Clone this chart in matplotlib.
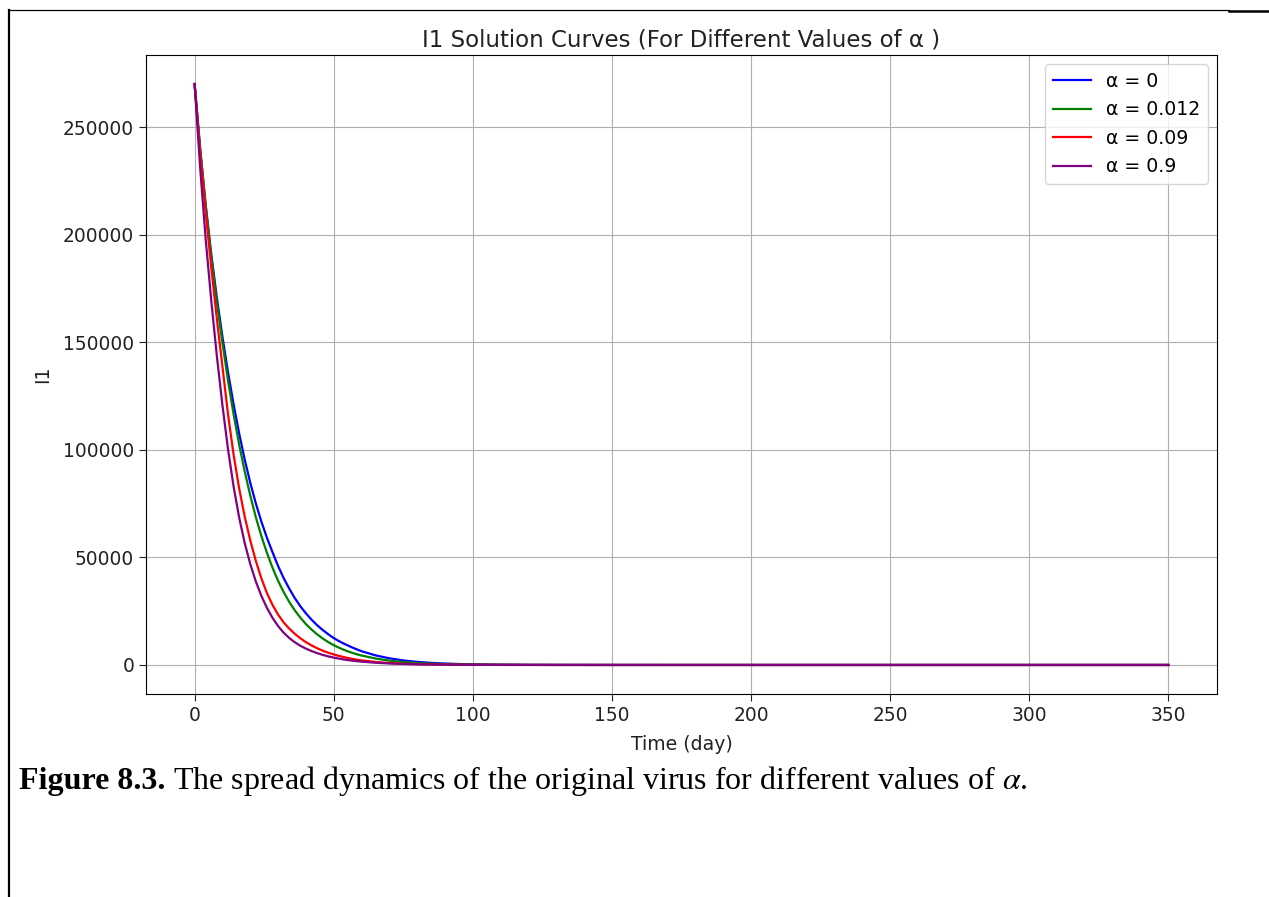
import matplotlib
matplotlib.use("Agg")
import matplotlib.pyplot as plt
from matplotlib.lines import Line2D

plt.rcParams['mathtext.fontset'] = 'stix'

# Time points (days) and read-off I1 values for each alpha
time_days = [0, 2, 4, 6, 8, 10, 12, 14, 16, 18, 20, 22, 24, 26, 28, 30, 32, 34, 36, 38,
             40, 42, 44, 46, 48, 50, 52, 54, 56, 58, 60, 65, 70, 75, 80, 85, 90, 95,
             100, 110, 120, 130, 150, 200, 250, 300, 350]

i1_alpha_0 = [270000, 239500, 213500, 190800, 170600, 152500, 136100, 121200, 107700,
              95500, 84700, 75100, 66600, 59100, 52400, 46000, 40400, 35500, 31100,
              27300, 24000, 21100, 18500, 16300, 14300, 12500, 11000, 9700, 8500, 7400,
              6400, 4470, 3090, 2110, 1430, 970, 660, 440, 295, 135, 60, 27, 5,
              0, 0, 0, 0]

i1_alpha_0012 = [270000, 239900, 213200, 189500, 168400, 149700, 132200, 116600, 102500,
                 90000, 78800, 68700, 59900, 52100, 45200, 39100, 33900, 29300, 25400,
                 22000, 19000, 16500, 14270, 12340, 10660, 9210, 7940, 6850, 5910, 5090,
                 4390, 3000, 2010, 1350, 900, 606, 406, 272, 182, 82, 37, 17, 3,
                 0, 0, 0, 0]

i1_alpha_009 = [270000, 238500, 210300, 184600, 160800, 138700, 116600, 97800, 82100,
                69000, 57900, 48400, 40200, 33400, 27900, 23400, 19800, 16900, 14500,
                12400, 10600, 9100, 7800, 6670, 5710, 4890, 4170, 3540, 3000, 2530,
                2130, 1390, 900, 590, 380, 246, 158, 102, 66, 27, 11, 4, 1,
                0, 0, 0, 0]

i1_alpha_09 = [270000, 231000, 197600, 169100, 143500, 120700, 100300, 83000, 68600,
               56700, 46900, 38800, 32100, 26500, 21900, 18100, 15000, 12530, 10570,
               8920, 7600, 6480, 5520, 4700, 4010, 3420, 2910, 2480, 2110, 1800,
               1540, 1030, 690, 462, 310, 208, 139, 93, 63, 28, 13, 5, 1,
               0, 0, 0, 0]

series = [
    ("α = 0", i1_alpha_0, "blue"),
    ("α = 0.012", i1_alpha_0012, "green"),
    ("α = 0.09", i1_alpha_009, "red"),
    ("α = 0.9", i1_alpha_09, "purple"),
]

fig = plt.figure(figsize=(12.69, 8.97), dpi=100)
ax = fig.add_axes([0.115, 0.2263, 0.844, 0.7124])

for label, vals, color in series:
    ax.plot(time_days, vals, color=color, label=label, linewidth=1.6)

ax.set_xticks([0, 50, 100, 150, 200, 250, 300, 350])
ax.set_yticks([0, 50000, 100000, 150000, 200000, 250000])
ax.tick_params(labelsize=13.4, length=5, colors="#222222")
ax.set_title("I1 Solution Curves (For Different Values of α )", fontsize=16.5, pad=6,
             color="#222222")
ax.set_xlabel("Time (day)", fontsize=13.6, color="#222222", labelpad=7)
ax.set_ylabel("I1", fontsize=13.6, color="#222222", labelpad=8)
ax.grid(True)
ax.legend(loc="upper right", fontsize=13.6)

# caption
cap_y = 1 - 789 / 897
cap1 = fig.text(19 / 1269, cap_y, "Figure 8.3.", fontsize=23.0,
                fontweight="bold", family="Liberation Serif", va="baseline")
fig.canvas.draw()
bb = cap1.get_window_extent(renderer=fig.canvas.get_renderer())
x_next = fig.transFigure.inverted().transform((bb.x1, bb.y0))[0]
fig.text(x_next, cap_y,
         " The spread dynamics of the original virus for different values of $\\alpha$.",
         fontsize=23.0, family="Liberation Serif", va="baseline")

# page border lines
fig.add_artist(Line2D([9 / 1269, 9 / 1269], [0, 1 - 10 / 897], color="black",
                      linewidth=1.6, transform=fig.transFigure))
fig.add_artist(Line2D([9 / 1269, 1229 / 1269], [1 - 10.5 / 897, 1 - 10.5 / 897],
                      color="black", linewidth=0.9, transform=fig.transFigure))
fig.add_artist(Line2D([1229 / 1269, 1], [1 - 11 / 897, 1 - 11 / 897],
                      color="black", linewidth=1.8, transform=fig.transFigure))

fig.savefig("out.png", dpi=100)
